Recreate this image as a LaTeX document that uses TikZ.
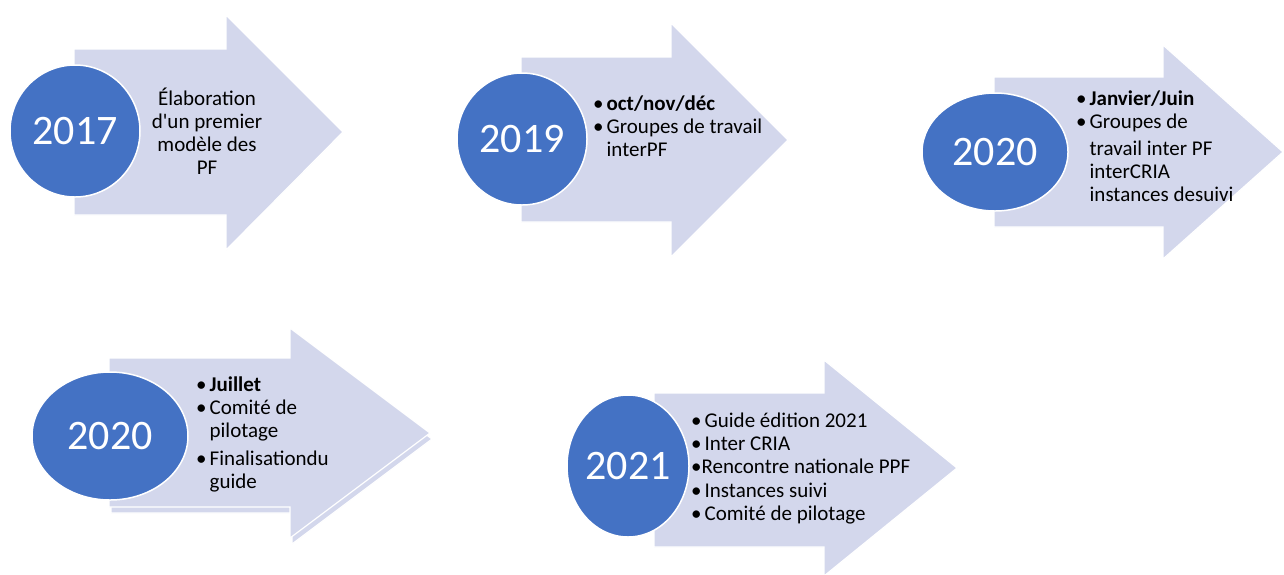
\documentclass[tikz,border=0pt]{standalone}
\usepackage{fontspec}
\setmainfont{Carlito}
\usetikzlibrary{shapes.geometric}
\definecolor{arrowfill}{HTML}{D3D7EC}
\definecolor{yearblue}{HTML}{4472C4}
\newcommand\straightq{\XeTeXglyph\XeTeXcharglyph"27\relax}
\tikzset{
  arrowshape/.style={fill=arrowfill, draw=white, line width=1.2pt, line join=miter},
  yearbub/.style={ellipse, fill=yearblue, draw=white, line width=1.5pt, inner sep=0pt,
    text=white, font=\fontsize{42}{50}\selectfont},
  bodytxt/.style={font=\fontsize{21}{23}\selectfont, inner sep=0pt, text=black},
}
\begin{document}
\begin{tikzpicture}[x=1pt,y=-1pt]
\clip (0,0) rectangle (1284,574);
\fill[white] (0,0) rectangle (1284,574);
% arrows
\draw[arrowshape] (74,49) -- (226,49) -- (226,15) -- (343,132) -- (226,250) -- (226,215) -- (74,215) -- cycle;
\draw[arrowshape] (521,57) -- (671,57) -- (671,23) -- (788,140) -- (671,257) -- (671,222) -- (521,222) -- cycle;
\draw[arrowshape] (994,77) -- (1163,77) -- (1163,45) -- (1283,152) -- (1163,259) -- (1163,227) -- (994,227) -- cycle;
\draw[arrowshape, shift={(2,6)}] (109,358) -- (290,358) -- (290,328) -- (430,433) -- (290,538) -- (290,507) -- (109,507) -- cycle;
\draw[arrowshape] (109,358) -- (290,358) -- (290,328) -- (430,433) -- (290,538) -- (290,507) -- (109,507) -- cycle;
\draw[arrowshape] (654,393) -- (824,393) -- (824,360) -- (957,468) -- (824,576) -- (824,547) -- (654,547) -- cycle;
% year bubbles
\node[yearbub, minimum width=130pt, minimum height=132pt] (y1) at (75,131) {2017};
\node[yearbub, minimum width=130pt, minimum height=132pt] (y2) at (522,139) {2019};
\node[yearbub, minimum width=146pt, minimum height=118pt] (y3) at (995,152) {2020};
\node[yearbub, minimum width=156pt, minimum height=128pt] (y4) at (110,436) {2020};
\node[yearbub, minimum width=122pt, minimum height=142pt] (y5) at (628,466) {2021};
% texts
\node[bodytxt, align=center] (t1) at (207,131) {Élaboration\\d\straightq un premier\\modèle des\\PF};
\node[bodytxt, anchor=west] (t2) at (593,129) {\begin{tabular}{@{}l@{\hspace{3pt}}l@{}}
\textbullet & \textbf{oct/nov/déc}\\
\textbullet & Groupes de travail\\
 & interPF\end{tabular}};
\node[bodytxt, anchor=west] (t3) at (1076,149) {\begin{tabular}{@{}l@{\hspace{3pt}}l@{}}
\textbullet & \textbf{Janvier/Juin}\\
\textbullet & Groupes de\\[4pt]
 & travail inter PF\\
 & interCRIA\\
 & instances desuivi\end{tabular}};
\node[bodytxt, anchor=west] (t4) at (196,435) {\begin{tabular}{@{}l@{\hspace{3pt}}l@{}}
\textbullet & \textbf{Juillet}\\
\textbullet & Comité de\\
 & pilotage\\[5pt]
\textbullet & Finalisationdu\\
 & guide\end{tabular}};
\node[bodytxt, anchor=west] (t5) at (691,469) {\begin{tabular}{@{}l@{}l@{}}
\textbullet & \hspace{3pt}Guide édition 2021\\
\textbullet & \hspace{3pt}Inter CRIA\\
\textbullet & Rencontre nationale PPF\\[1pt]
\textbullet & \hspace{3pt}Instances suivi\\
\textbullet & \hspace{3pt}Comité de pilotage\end{tabular}};
\end{tikzpicture}
\end{document}
